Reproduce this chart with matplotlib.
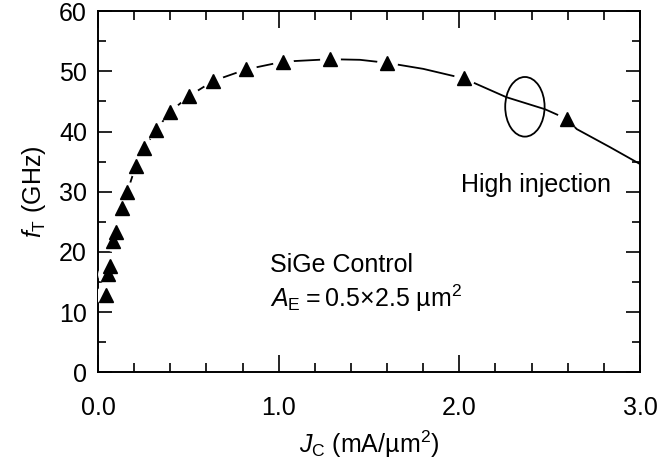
import matplotlib
matplotlib.use("Agg")
import matplotlib.pyplot as plt
from matplotlib.patches import Ellipse
from matplotlib.ticker import MultipleLocator

plt.rcParams['font.family'] = ['Liberation Sans', 'DejaVu Sans']
plt.rcParams['mathtext.fontset'] = 'custom'
plt.rcParams['mathtext.rm'] = 'Liberation Sans'
plt.rcParams['mathtext.it'] = 'Liberation Sans:italic'

# Measured cutoff frequency vs collector current density
jc = [0.043, 0.057, 0.065, 0.083, 0.100, 0.131, 0.161, 0.209, 0.257, 0.320,
      0.400, 0.505, 0.638, 0.819, 1.026, 1.285, 1.599, 2.026, 2.594]
ft = [12.8, 16.4, 17.7, 21.9, 23.4, 27.3, 29.9, 34.3, 37.3, 40.2,
      43.3, 45.9, 48.4, 50.3, 51.6, 52.0, 51.4, 48.8, 42.1]

# Guide curve through the measurements, running out to the axis edge
curve_j = [0.131, 0.161, 0.209, 0.257, 0.320,
           0.400, 0.505, 0.638, 0.819, 1.026, 1.285, 1.45, 1.599, 1.80, 2.026,
           2.26, 2.474, 2.594, 2.65, 2.834, 3.0]
curve_f = [27.3, 29.9, 34.3, 37.3, 40.2,
           43.3, 45.9, 48.4, 50.3, 51.6, 52.0, 51.9, 51.4, 50.4, 48.8,
           45.7, 43.7, 42.1, 40.4, 37.4, 34.6]

# High-injection marker ellipse (center, width, height in data units)
ell_center = (2.363, 44.1)
ell_w, ell_h = 0.218, 9.9

fig = plt.figure(figsize=(6.61, 4.59), dpi=100)
ax = fig.add_axes([0.1483, 0.1885, 0.9682 - 0.1483, 0.976 - 0.1885])

ax.plot(curve_j, curve_f, color='black', lw=1.3, zorder=2, clip_on=True)
# white halo so the curve breaks around each symbol
ax.plot(jc, ft, linestyle='none', marker='o', ms=15, mfc='white', mec='none', zorder=3)
ax.plot(jc, ft, linestyle='none', marker='^', ms=9.5, mfc='black', mec='black', zorder=4)

ax.add_patch(Ellipse(ell_center, ell_w, ell_h, fill=False, ec='black', lw=1.3, zorder=5))

ax.set_xlim(0, 3.0)
ax.set_ylim(0, 60)
ax.set_xticks([0.0, 1.0, 2.0, 3.0])
ax.set_xticklabels(['0.0', '1.0', '2.0', '3.0'])
ax.xaxis.set_minor_locator(MultipleLocator(0.2))
ax.set_yticks([0, 10, 20, 30, 40, 50, 60])
ax.yaxis.set_minor_locator(MultipleLocator(5))

ax.tick_params(which='both', direction='in', top=True, right=True, width=1.2,
               labelsize=18, colors='black')
ax.tick_params(axis='x', which='major', length=12, pad=17)
ax.tick_params(axis='x', which='minor', length=6.5)
ax.tick_params(axis='y', which='major', length=10, pad=8)
ax.tick_params(axis='y', which='minor', length=5.5)
for s in ax.spines.values():
    s.set_linewidth(1.4)

ax.set_xlabel(r'$J_\mathrm{C}$ (mA/µm$^2$)', fontsize=18, labelpad=6)
ax.set_ylabel(r'$f_\mathrm{T}$ (GHz)', fontsize=18, labelpad=8)

ax.text(2.84, 31.2, 'High injection', fontsize=18, ha='right', va='center')
ax.text(0.95, 17.8, 'SiGe Control', fontsize=18, ha='left', va='center')
ax.text(0.95, 12.3, '$A_\\mathrm{E}$\u2009=\u20090.5×2.5 µm$^2$', fontsize=18,
        ha='left', va='center')

fig.savefig('out.png', dpi=100)
